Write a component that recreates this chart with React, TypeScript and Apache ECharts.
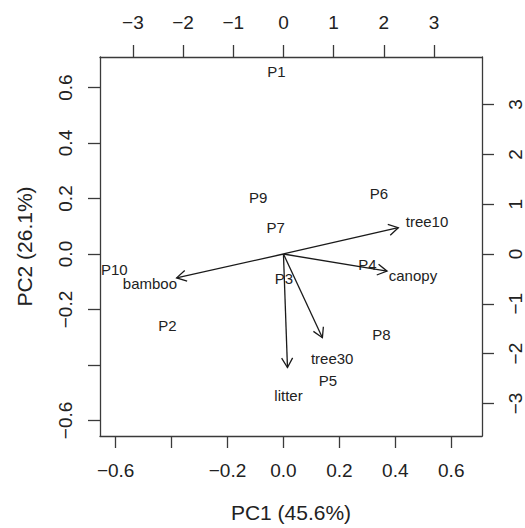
import React, { useEffect, useRef } from "react";
import * as echarts from "echarts";

const obsNames = ["P1", "P2", "P3", "P4", "P5", "P6", "P7", "P8", "P9", "P10"];
const obsPC1 = [-0.025, -0.415, 0.002, 0.3, 0.159, 0.341, -0.028, 0.35, -0.09, -0.605];
const obsPC2 = [0.659, -0.258, -0.09, -0.039, -0.455, 0.217, 0.096, -0.29, 0.203, -0.057];

const varNames = ["tree10", "canopy", "bamboo", "tree30", "litter"];
const varPC1 = [2.86, 2.58, -2.66, 0.97, 0.1];
const varPC2 = [0.66, -0.43, -0.6, -2.1, -2.85];

const primaryTicks = [-0.6, -0.4, -0.2, 0, 0.2, 0.4, 0.6];
const primaryLabels = [-0.6, -0.2, 0, 0.2, 0.4, 0.6];
const secondaryTicks = [-3, -2, -1, 0, 1, 2, 3];

const PRIMARY_MIN = -0.656;
const PRIMARY_MAX = 0.71;
const RATIO = 5.571;

const FONT = "Liberation Sans, Arial, Helvetica, sans-serif";
const LINE = "#3a3a3a";
const TEXT = "#222";

const fmtP = (v: number) => v.toFixed(1).replace("-", "\u2212");
const fmtS = (v: number) => String(v).replace("-", "\u2212");

export default function App() {
  const ref = useRef<HTMLDivElement>(null);
  useEffect(() => {
    document.body.style.margin = "0";
    const chart = echarts.init(ref.current!, null, { renderer: "svg" });
    const axisCommon = {
      type: "value",
      axisLine: { show: true, onZero: false, lineStyle: { color: LINE, width: 1.3 } },
      axisTick: { show: true, inside: false, length: 12, lineStyle: { color: LINE, width: 1.3 } },
      splitLine: { show: false },
    };
    const labelCommon = { color: TEXT, fontSize: 19, fontFamily: FONT };
    chart.setOption({
      animation: false,
      backgroundColor: "#fff",
      grid: { left: 100, top: 57, width: 383, height: 383, show: false },
      xAxis: [
        {
          ...axisCommon,
          position: "bottom",
          min: PRIMARY_MIN,
          max: PRIMARY_MAX,
          axisTick: { ...axisCommon.axisTick, customValues: primaryTicks },
          axisLabel: { ...labelCommon, margin: 25, customValues: primaryLabels, formatter: fmtP },
          name: "PC1 (45.6%)",
          nameLocation: "middle",
          nameGap: 66,
          nameTextStyle: { color: TEXT, fontSize: 21, fontFamily: FONT },
        },
        {
          ...axisCommon,
          position: "top",
          min: PRIMARY_MIN * RATIO,
          max: PRIMARY_MAX * RATIO,
          axisTick: { ...axisCommon.axisTick, customValues: secondaryTicks },
          axisLabel: { ...labelCommon, margin: 25, customValues: secondaryTicks, formatter: fmtS },
        },
      ],
      yAxis: [
        {
          ...axisCommon,
          position: "left",
          min: PRIMARY_MIN,
          max: PRIMARY_MAX,
          axisTick: { ...axisCommon.axisTick, customValues: primaryTicks },
          axisLabel: { ...labelCommon, margin: 25, rotate: 90, customValues: primaryLabels, formatter: fmtP },
          name: "PC2 (26.1%)",
          nameLocation: "middle",
          nameRotate: 90,
          nameGap: 65,
          nameTextStyle: { color: TEXT, fontSize: 21, fontFamily: FONT },
        },
        {
          ...axisCommon,
          position: "right",
          min: PRIMARY_MIN * RATIO,
          max: PRIMARY_MAX * RATIO,
          axisTick: { ...axisCommon.axisTick, customValues: secondaryTicks },
          axisLabel: { ...labelCommon, margin: 24, rotate: 90, customValues: secondaryTicks, formatter: fmtS },
        },
      ],
      series: [
        {
          type: "custom",
          name: "observations",
          coordinateSystem: "cartesian2d",
          xAxisIndex: 0,
          yAxisIndex: 0,
          data: obsNames.map((n, i) => [obsPC1[i], obsPC2[i], n]),
          renderItem: (params: any, api: any) => {
            const p = api.coord([api.value(0), api.value(1)]);
            return {
              type: "text",
              x: p[0],
              y: p[1],
              style: {
                text: obsNames[params.dataIndex],
                align: "center",
                verticalAlign: "middle",
                fontSize: 15,
                fontFamily: FONT,
                fill: TEXT,
              },
            };
          },
        },
        {
          type: "custom",
          name: "arrows",
          coordinateSystem: "cartesian2d",
          xAxisIndex: 1,
          yAxisIndex: 1,
          data: varNames.map((n, i) => [varPC1[i], varPC2[i]]),
          renderItem: (params: any, api: any) => {
            const x = api.value(0);
            const y = api.value(1);
            const o = api.coord([0, 0]);
            const e = api.coord([0.8 * x, 0.8 * y]);
            const l = api.coord([x, y]);
            const ang = Math.atan2(e[1] - o[1], e[0] - o[0]);
            const len = 11;
            const sp = Math.PI / 6;
            const p1 = [e[0] - len * Math.cos(ang - sp), e[1] - len * Math.sin(ang - sp)];
            const p2 = [e[0] - len * Math.cos(ang + sp), e[1] - len * Math.sin(ang + sp)];
            return {
              type: "group",
              children: [
                {
                  type: "line",
                  shape: { x1: o[0], y1: o[1], x2: e[0], y2: e[1] },
                  style: { stroke: "#1a1a1a", lineWidth: 1.3 },
                },
                {
                  type: "polyline",
                  shape: { points: [p1, e, p2] },
                  style: { stroke: "#1a1a1a", lineWidth: 1.3, fill: null },
                },
                {
                  type: "text",
                  x: l[0],
                  y: l[1],
                  style: {
                    text: varNames[params.dataIndex],
                    align: "center",
                    verticalAlign: "middle",
                    fontSize: 15,
                    fontFamily: FONT,
                    fill: TEXT,
                  },
                },
              ],
            };
          },
        },
      ],
    });
    return () => chart.dispose();
  }, []);
  return <div ref={ref} style={{ width: 525, height: 528 }} />;
}
